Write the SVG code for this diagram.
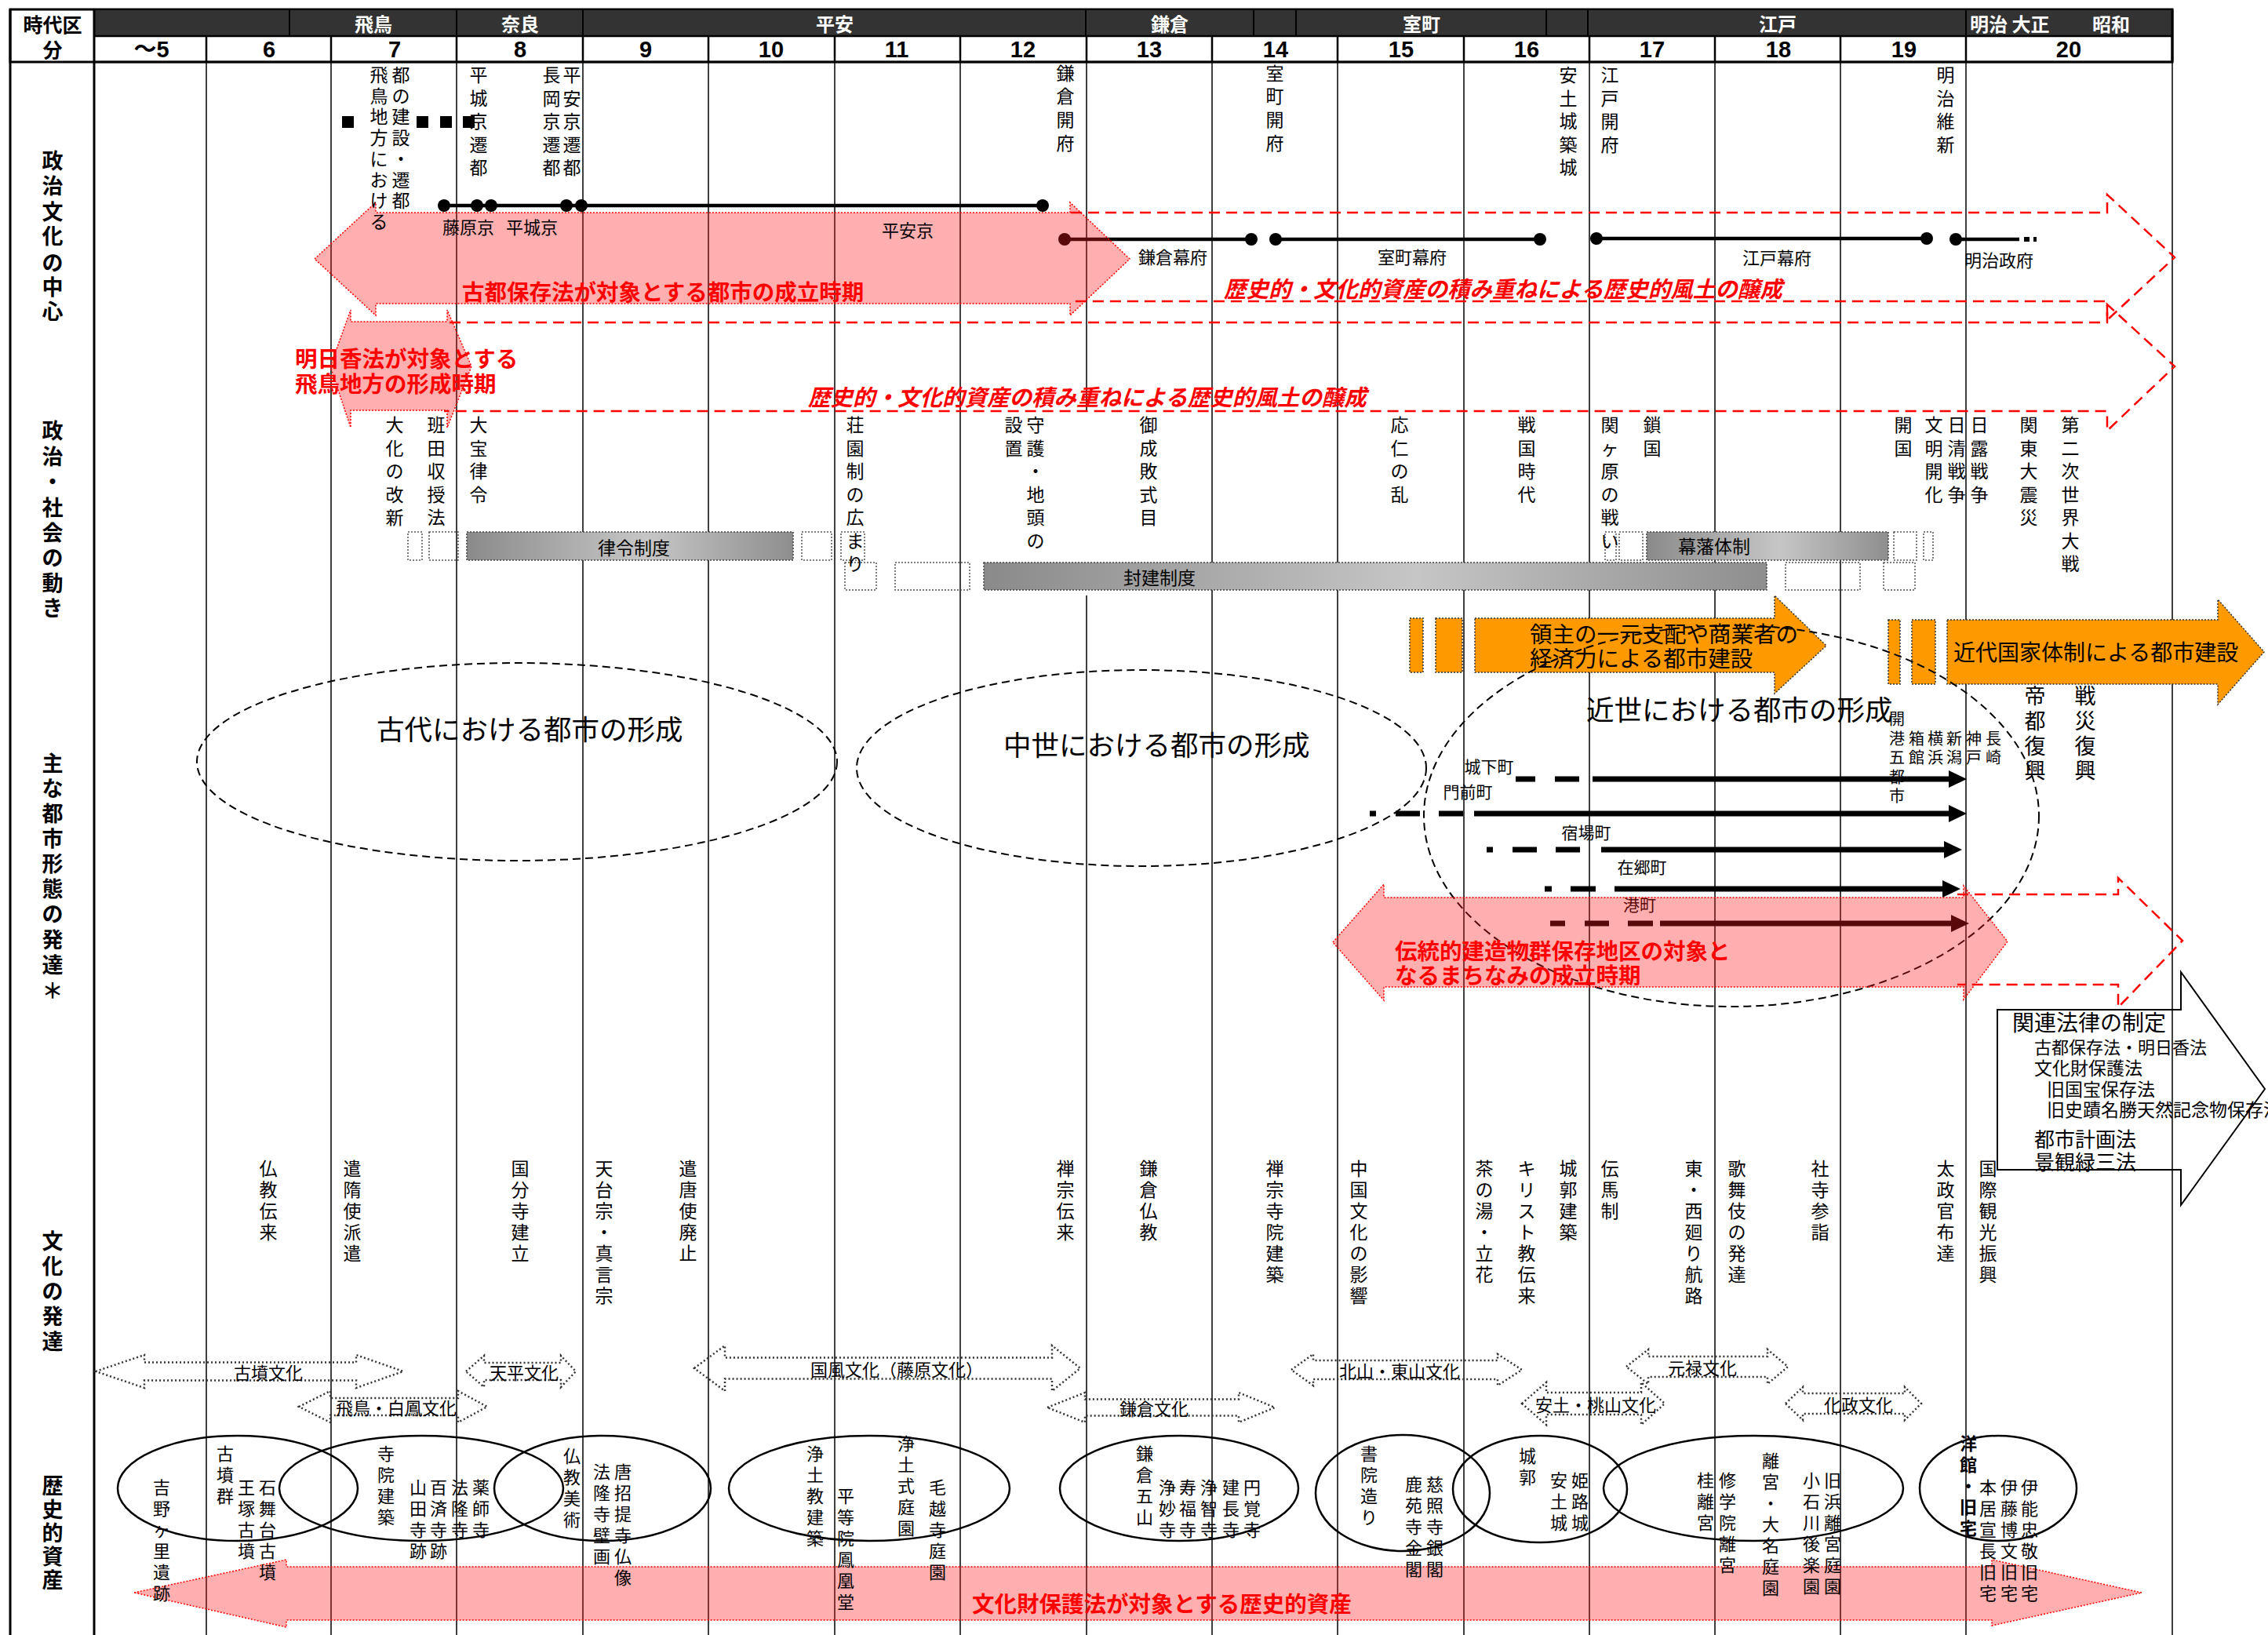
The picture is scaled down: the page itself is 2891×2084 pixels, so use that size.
<svg xmlns="http://www.w3.org/2000/svg" width="2891" height="2084" viewBox="0 0 2891 2084">
<defs>
<linearGradient id="gbar" x1="0" y1="0" x2="1" y2="0">
<stop offset="0" stop-color="#8a8a8a"/><stop offset="0.55" stop-color="#c6c6c6"/><stop offset="1" stop-color="#8e8e8e"/>
</linearGradient>
</defs>
<style>
text{font-family:"Noto Sans CJK JP","Noto Sans",sans-serif;dominant-baseline:central;text-anchor:middle;fill:#000}
.v{font-size:23px}
.sm{font-size:21px}
.lb{font-size:27px;font-weight:bold}
.hd{font-size:24px;font-weight:bold;fill:#fff}
.num{font-family:"Liberation Sans Narrow","Liberation Sans","Noto Sans CJK JP",sans-serif;font-size:29px;font-weight:bold}
.rt{font-size:28.5px;font-weight:bold;fill:#ff0000;text-anchor:start}
.ri{font-size:28.5px;font-weight:bold;font-style:italic;fill:#ff0000;text-anchor:start}
.st{text-anchor:start}
.col{stroke:#000;stroke-width:1.5}
.pink{fill:#ff1a1a;fill-opacity:0.35;stroke:#ff0000;stroke-width:1.5;stroke-dasharray:2 2}
.dred{fill:none;stroke:#ff0000;stroke-width:2.5;stroke-dasharray:14 8}
.cult{fill:none;stroke:#333;stroke-width:2.5;stroke-dasharray:2 3}
.bar{fill:url(#gbar);stroke:#444;stroke-width:1.5;stroke-dasharray:2 2}
.box{fill:none;stroke:#555;stroke-width:1.5;stroke-dasharray:2 2}
.orng{fill:#ff9900;stroke:#333;stroke-width:1.5;stroke-dasharray:2 2}
.ell{fill:none;stroke:#000;stroke-width:2;stroke-dasharray:10 6}
.as{fill:none;stroke:#000;stroke-width:2.5}
.tl{stroke:#000;stroke-width:4.5}
.ca{stroke:#000;stroke-width:7}
</style>

<g id="grid">
<rect x="13" y="12" width="2756" height="67" fill="#fff" stroke="#000" stroke-width="3"/>
<g fill="#333" stroke="#000" stroke-width="2">
<rect x="120" y="12" width="249" height="34"/><rect x="369" y="12" width="213" height="34"/><rect x="582" y="12" width="161" height="34"/><rect x="743" y="12" width="641" height="34"/><rect x="1384" y="12" width="214" height="34"/><rect x="1598" y="12" width="54" height="34"/><rect x="1652" y="12" width="319" height="34"/><rect x="1971" y="12" width="53" height="34"/><rect x="2024" y="12" width="482" height="34"/><rect x="2506" y="12" width="263" height="34"/>
</g>
<g fill="none" stroke="#000" stroke-width="2.5">
<path d="M120,46 H2769 M120,79 H2769"/>
<path d="M263,46 V79 M422,46 V79 M582,46 V79 M743,46 V79 M903,46 V79 M1064,46 V79 M1224,46 V79 M1385,46 V79 M1545,46 V79 M1705,46 V79 M1866,46 V79 M2026,46 V79 M2186,46 V79 M2346,46 V79 M2506,46 V79"/>
</g>
<path d="M13,12 V2084 M120,12 V2084" stroke="#000" stroke-width="3"/>
<path class="col" d="M263,79 V2084 M422,79 V2084 M582,79 V2084 M743,79 V2084 M903,79 V2084 M1064,79 V2084 M1224,79 V2084 M1385,79 V524 M1385,759 V2084 M1545,79 V2084 M1705,79 V2084 M1866,79 V2084 M2026,79 V2084 M2186,79 V2084 M2346,79 V2084 M2506,79 V2084 M2769,79 V2084"/>
<path d="M2769,12 V79" stroke="#000" stroke-width="3"/>
</g>

<g id="header-text">
<text class="lb" x="67" y="30" style="font-size:25px">時代区</text>
<text class="lb" x="67" y="62" style="font-size:25px">分</text>
<text class="hd" x="476" y="29">飛鳥</text>
<text class="hd" x="663" y="29">奈良</text>
<text class="hd" x="1064" y="29">平安</text>
<text class="hd" x="1491" y="29">鎌倉</text>
<text class="hd" x="1812" y="29">室町</text>
<text class="hd" x="2266" y="29">江戸</text>
<text class="hd st" x="2511" y="29">明治 大正</text>
<text class="hd" x="2691" y="29">昭和</text>
<text class="num" x="193" y="63">～5</text>
<text class="num" x="343" y="63">6</text>
<text class="num" x="503" y="63">7</text>
<text class="num" x="663" y="63">8</text>
<text class="num" x="823" y="63">9</text>
<text class="num" x="983" y="63">10</text>
<text class="num" x="1143" y="63">11</text>
<text class="num" x="1304" y="63">12</text>
<text class="num" x="1465" y="63">13</text>
<text class="num" x="1626" y="63">14</text>
<text class="num" x="1786" y="63">15</text>
<text class="num" x="1946" y="63">16</text>
<text class="num" x="2106" y="63">17</text>
<text class="num" x="2267" y="63">18</text>
<text class="num" x="2427" y="63">19</text>
<text class="num" x="2637" y="63">20</text>
</g>

<g id="row-labels">
<text class="lb" x="67 67 67 67 67 67 67" y="203 235 268 299 333 364 395">政治文化の中心</text>
<text class="lb" x="67 67 67 67 67 67 67 67" y="547 580 612 645 677 709 741 773">政治・社会の動き</text>
<text class="lb" x="67 67 67 67 67 67 67 67 67 67" y="971 1003 1035 1067 1099 1131 1163 1196 1228 1261">主な都市形態の発達＊</text>
<text class="lb" x="67 67 67 67 67" y="1580 1612 1644 1676 1708">文化の発達</text>
<text class="lb" x="67 67 67 67 67" y="1892 1922 1952 1982 2012">歴史的資産</text>
</g>

<g id="bars">
<rect class="box" x="520" y="678" width="18" height="36"/>
<rect class="box" x="547" y="678" width="37" height="36"/>
<rect class="bar" x="595" y="678" width="416" height="36"/>
<rect class="box" x="1022" y="678" width="38" height="36"/>
<rect class="box" x="1072" y="678" width="30" height="36"/>
<rect class="box" x="2046" y="678" width="14" height="36"/>
<rect class="box" x="2064" y="678" width="30" height="36"/>
<rect class="bar" x="2099" y="678" width="308" height="36"/>
<rect class="box" x="2414" y="678" width="29" height="36"/>
<rect class="box" x="2452" y="678" width="12" height="36"/>
<rect class="box" x="1077" y="717" width="40" height="35"/>
<rect class="box" x="1141" y="717" width="95" height="35"/>
<rect class="bar" x="1254" y="717" width="998" height="35"/>
<rect class="box" x="2276" y="717" width="95" height="35"/>
<rect class="box" x="2401" y="717" width="40" height="35"/>
<text class="v" x="808" y="697">律令制度</text>
<text class="v" x="1478" y="735">封建制度</text>
<text class="v" x="2185" y="695">幕藩体制</text>
</g>

<g id="timelines">
<path class="tl" d="M566,262 H1329 M1357,305 H1595 M1626,305 H1963 M2035,304 H2456 M2493,305 H2574"/>
<g fill="#000">
<circle cx="566" cy="262" r="8"/><circle cx="608" cy="262" r="8"/><circle cx="626" cy="262" r="8"/><circle cx="722" cy="262" r="8"/><circle cx="741" cy="262" r="8"/><circle cx="1329" cy="262" r="8"/>
<circle cx="1357" cy="305" r="8"/><circle cx="1595" cy="305" r="8"/><circle cx="1626" cy="305" r="8"/><circle cx="1963" cy="305" r="8"/><circle cx="2035" cy="304" r="8"/><circle cx="2456" cy="304" r="8"/><circle cx="2493" cy="305" r="8"/>
<rect x="2580" y="302" width="7" height="6"/><rect x="2592" y="302" width="4" height="6"/>
<rect x="436" y="148" width="15" height="15"/><rect x="531" y="148" width="15" height="15"/><rect x="561" y="148" width="15" height="15"/><rect x="590" y="148" width="15" height="15"/>
</g>
</g>

<g id="red-dashed-arrows">
<path class="dred" d="M1365,271 H2686 V248 L2772,328 L2686,408 V384 H1365"/>
<path class="dred" d="M573,411 H2686 V388 L2772,467 L2686,549 V524 H566"/>
<path class="dred" d="M2495,1140 H2700 V1119 L2782,1199 L2700,1284 V1255 H2495"/>
</g>

<g id="orange-arrows">
<rect class="orng" x="1797" y="788" width="17" height="69"/>
<rect class="orng" x="1830" y="788" width="34" height="69"/>
<path class="orng" d="M1880,788 H2262 V759 L2328,823 L2262,884 V857 H1880 Z"/>
<rect class="orng" x="2407" y="790" width="15" height="82"/>
<rect class="orng" x="2437" y="790" width="30" height="82"/>
<path class="orng" d="M2482,790 H2827 V764 L2886,831 L2827,898 V872 H2482 Z"/>
<text class="st" x="1950" y="806" style="font-size:28.5px">領主の一元支配や商業者の</text>
<text class="st" x="1950" y="837" style="font-size:28.5px">経済力による都市建設</text>
<text class="st" x="2490" y="830" style="font-size:28px">近代国家体制による都市建設</text>
</g>

<g id="city-ellipses">
<ellipse class="ell" cx="659" cy="971" rx="408" ry="126"/>
<ellipse class="ell" cx="1455" cy="979" rx="363" ry="125"/>
<ellipse class="ell" cx="2207" cy="1040" rx="392" ry="243"/>
<text class="st" x="480" y="927" style="font-size:35.5px">古代における都市の形成</text>
<text class="st" x="1279" y="947" style="font-size:35.5px">中世における都市の形成</text>
<text class="st" x="2022" y="902" style="font-size:35.5px">近世における都市の形成</text>
</g>

<g id="connectors">
<path class="ca" d="M1932,993 H1957 M1982,993 H2013 M2030,993 H2486"/>
<polygon points="2484,982 2507,993 2484,1004"/>
<path class="ca" d="M1746,1037 H1754 M1779,1037 H1810 M1834,1037 H1865 M1879,1037 H2486"/>
<polygon points="2484,1026 2507,1037 2484,1048"/>
<path class="ca" d="M1895,1083 H1903 M1928,1083 H1959 M1983,1083 H2014 M2041,1083 H2480"/>
<polygon points="2478,1072 2501,1083 2478,1094"/>
<path class="ca" d="M1969,1133 H1978 M2002,1133 H2034 M2058,1133 H2478"/>
<polygon points="2476,1122 2499,1133 2476,1144"/>
<path class="ca" d="M1976,1177 H1995 M2020,1177 H2051 M2075,1177 H2107 M2116,1177 H2489"/>
<polygon points="2487,1166 2510,1177 2487,1188"/>
<text class="sm" x="1898" y="976">城下町</text>
<text class="sm" x="1871" y="1008">門前町</text>
<text class="sm" x="2022" y="1060">宿場町</text>
<text class="sm" x="2093" y="1104">在郷町</text>
<text class="sm" x="2090" y="1152">港町</text>
</g>

<g id="pink-arrows">
<polygon class="pink" points="401,330 479,258 479,271 1364,271 1364,258 1440,330 1364,402 1364,387 479,387 479,402"/>
<polygon class="pink" points="421,467 447,395 447,410 570,410 570,395 601,467 570,545 570,523 447,523 447,545"/>
<polygon class="pink" points="1699,1201 1764,1127 1764,1144 2503,1144 2503,1129 2559,1200 2503,1274 2503,1258 1764,1258 1764,1275"/>
<polygon class="pink" points="171,2030 365,1988 365,1997 2539,1997 2539,1988 2730,2030 2539,2072 2539,2065 365,2065 365,2074"/>
</g>

<g id="timeline-labels">
<text x="597" y="288" style="font-size:22px">藤原京</text>
<text x="678" y="288" style="font-size:22px">平城京</text>
<text x="1157" y="292" style="font-size:22px">平安京</text>
<text x="1495" y="326" style="font-size:22px">鎌倉幕府</text>
<text x="1800" y="326" style="font-size:22px">室町幕府</text>
<text x="2265" y="327" style="font-size:22px">江戸幕府</text>
<text x="2548" y="330" style="font-size:22px">明治政府</text>
</g>

<g id="red-labels">
<text class="rt" x="589" y="370">古都保存法が対象とする都市の成立時期</text>
<text class="ri" x="1560" y="366">歴史的・文化的資産の積み重ねによる歴史的風土の醸成</text>
<text class="ri" x="1030" y="504">歴史的・文化的資産の積み重ねによる歴史的風土の醸成</text>
<text class="rt" x="376" y="455">明日香法が対象とする</text>
<text class="rt" x="376" y="487">飛鳥地方の形成時期</text>
<text class="rt" x="1778" y="1210">伝統的建造物群保存地区の対象と</text>
<text class="rt" x="1778" y="1241">なるまちなみの成立時期</text>
<text class="rt" x="1239" y="2042">文化財保護法が対象とする歴史的資産</text>
</g>

<g id="politics-center">
<text class="v" x="511 511 511 511 511 511 511" y="94 121 147 174 201 228 254">都の建設・遷都</text>
<text class="v" x="483 483 483 483 483 483 483 483" y="94 121 147 174 201 228 254 281">飛鳥地方における</text>
<text class="v" x="610 610 610 610 610" y="94 124 153 183 212">平城京遷都</text>
<text class="v" x="703 703 703 703 703" y="94 124 153 183 212">長岡京遷都</text>
<text class="v" x="729 729 729 729 729" y="94 124 153 183 212">平安京遷都</text>
<text class="v" x="1358 1358 1358 1358" y="92 121 151 181">鎌倉開府</text>
<text class="v" x="1625 1625 1625 1625" y="92 121 151 181">室町開府</text>
<text class="v" x="1999 1999 1999 1999 1999" y="94 124 153 183 212">安土城築城</text>
<text class="v" x="2052 2052 2052 2052" y="94 124 153 183">江戸開府</text>
<text class="v" x="2480 2480 2480 2480" y="94 124 153 183">明治維新</text>
</g>

<g id="politics-society">
<text class="v" x="503 503 503 503 503" y="540 570 599 629 658">大化の改新</text>
<text class="v" x="556 556 556 556 556" y="540 570 599 629 658">班田収授法</text>
<text class="v" x="610 610 610 610" y="540 570 599 629">大宝律令</text>
<text class="v" x="1090 1090 1090 1090 1090 1090 1090" y="540 570 599 629 658 688 717">荘園制の広まり</text>
<text class="v" x="1320 1320 1320 1320 1320 1320" y="540 570 599 629 658 688">守護・地頭の</text>
<text class="v" x="1292 1292" y="540 570">設置</text>
<text class="v" x="1464 1464 1464 1464 1464" y="540 570 599 629 658">御成敗式目</text>
<text class="v" x="1784 1784 1784 1784" y="540 570 599 629">応仁の乱</text>
<text class="v" x="1946 1946 1946 1946" y="540 570 599 629">戦国時代</text>
<text class="v" x="2052 2052 2052 2052 2052 2052" y="540 570 599 629 658 688">関ヶ原の戦い</text>
<text class="v" x="2106 2106" y="540 570">鎖国</text>
<text class="v" x="2426 2426" y="540 570">開国</text>
<text class="v" x="2465 2465 2465 2465" y="540 570 599 629">文明開化</text>
<text class="v" x="2494 2494 2494 2494" y="540 570 599 629">日清戦争</text>
<text class="v" x="2523 2523 2523 2523" y="540 570 599 629">日露戦争</text>
<text class="v" x="2586 2586 2586 2586 2586" y="540 570 599 629 658">関東大震災</text>
<text class="v" x="2639 2639 2639 2639 2639 2639 2639" y="540 570 599 629 658 688 717">第二次世界大戦</text>
</g>

<g id="city-notes">
<text class="sm" x="2418 2418 2418 2418 2418" y="915 940 964 989 1013" style="font-size:20px">開港五都市</text>
<text class="sm" x="2443 2443" y="940 964" style="font-size:20px">箱館</text>
<text class="sm" x="2467 2467" y="940 964" style="font-size:20px">横浜</text>
<text class="sm" x="2491 2491" y="940 964" style="font-size:20px">新潟</text>
<text class="sm" x="2516 2516" y="940 964" style="font-size:20px">神戸</text>
<text class="sm" x="2541 2541" y="940 964" style="font-size:20px">長崎</text>
<text x="2594 2594 2594 2594" y="885 917 949 980" style="font-size:27px">帝都復興</text>
<text x="2658 2658 2658 2658" y="885 917 949 980" style="font-size:27px">戦災復興</text>
</g>

<g id="law-callout">
<path d="M2546,1287 H2780 V1239 L2887,1388 L2780,1536 V1491 H2546 Z" fill="none" stroke="#000" stroke-width="2"/>
<text class="st" x="2565" y="1302" style="font-size:28px">関連法律の制定</text>
<text class="st" x="2593" y="1333" style="font-size:22px">古都保存法・明日香法</text>
<text class="st" x="2593" y="1360" style="font-size:23px">文化財保護法</text>
<text class="st" x="2609" y="1387" style="font-size:23px">旧国宝保存法</text>
<text class="st" x="2609" y="1413" style="font-size:23px">旧史蹟名勝天然記念物保存法</text>
<text class="st" x="2593" y="1450" style="font-size:26px">都市計画法</text>
<text class="st" x="2593" y="1479" style="font-size:26px">景観緑三法</text>
</g>

<g id="culture">
<text class="v" x="342 342 342 342" y="1488 1515 1542 1569">仏教伝来</text>
<text class="v" x="449 449 449 449 449" y="1488 1515 1542 1569 1596">遣隋使派遣</text>
<text class="v" x="663 663 663 663 663" y="1488 1515 1542 1569 1596">国分寺建立</text>
<text class="v" x="770 770 770 770 770 770 770" y="1488 1515 1542 1569 1596 1623 1650">天台宗・真言宗</text>
<text class="v" x="877 877 877 877 877" y="1488 1515 1542 1569 1596">遣唐使廃止</text>
<text class="v" x="1358 1358 1358 1358" y="1488 1515 1542 1569">禅宗伝来</text>
<text class="v" x="1464 1464 1464 1464" y="1488 1515 1542 1569">鎌倉仏教</text>
<text class="v" x="1625 1625 1625 1625 1625 1625" y="1488 1515 1542 1569 1596 1623">禅宗寺院建築</text>
<text class="v" x="1732 1732 1732 1732 1732 1732 1732" y="1488 1515 1542 1569 1596 1623 1650">中国文化の影響</text>
<text class="v" x="1892 1892 1892 1892 1892 1892" y="1488 1515 1542 1569 1596 1623">茶の湯・立花</text>
<text class="v" x="1946 1946 1946 1946 1946 1946 1946" y="1488 1515 1542 1569 1596 1623 1650">キリスト教伝来</text>
<text class="v" x="1999 1999 1999 1999" y="1488 1515 1542 1569">城郭建築</text>
<text class="v" x="2052 2052 2052" y="1488 1515 1542">伝馬制</text>
<text class="v" x="2159 2159 2159 2159 2159 2159 2159" y="1488 1515 1542 1569 1596 1623 1650">東・西廻り航路</text>
<text class="v" x="2214 2214 2214 2214 2214 2214" y="1488 1515 1542 1569 1596 1623">歌舞伎の発達</text>
<text class="v" x="2320 2320 2320 2320" y="1488 1515 1542 1569">社寺参詣</text>
<text class="v" x="2480 2480 2480 2480 2480" y="1488 1515 1542 1569 1596">太政官布達</text>
<text class="v" x="2534 2534 2534 2534 2534 2534" y="1488 1515 1542 1569 1596 1623">国際観光振興</text>
</g>

<g id="culture-periods">
<path class="cult" d="M122,1748 L184,1727 L184,1736.5 L454,1736.5 L454,1727 L514,1748 L454,1769 L454,1759.5 L184,1759.5 L184,1769 Z"/>
<path class="cult" d="M381,1793 L421,1773 L421,1782 L584,1782 L584,1773 L621,1793 L584,1813 L584,1804 L421,1804 L421,1813 Z"/>
<path class="cult" d="M594,1748 L617,1728 L617,1737 L715,1737 L715,1728 L734,1748 L715,1768 L715,1759 L617,1759 L617,1768 Z"/>
<path class="cult" d="M885,1744 L924,1715 L924,1730.5 L1341,1730.5 L1341,1715 L1377,1744 L1341,1773 L1341,1757.5 L924,1757.5 L924,1773 Z"/>
<path class="cult" d="M1335,1794 L1383,1775 L1383,1783.5 L1579,1783.5 L1579,1775 L1625,1794 L1579,1813 L1579,1804.5 L1383,1804.5 L1383,1813 Z"/>
<path class="cult" d="M1646,1746 L1674,1726 L1674,1734 L1909,1734 L1909,1726 L1940,1746 L1909,1766 L1909,1758 L1674,1758 L1674,1766 Z"/>
<path class="cult" d="M1940,1789 L1971,1762 L1971,1775 L2092,1775 L2092,1762 L2122,1789 L2092,1816 L2092,1803 L1971,1803 L1971,1816 Z"/>
<path class="cult" d="M2073,1742 L2101,1720 L2101,1729 L2253,1729 L2253,1720 L2279,1742 L2253,1764 L2253,1755 L2101,1755 L2101,1764 Z"/>
<path class="cult" d="M2276,1789 L2298,1768 L2298,1776 L2428,1776 L2428,1768 L2449,1789 L2428,1810 L2428,1802 L2298,1802 L2298,1810 Z"/>
<text x="342" y="1748" style="font-size:22px">古墳文化</text>
<text x="505" y="1793" style="font-size:22px">飛鳥・白鳳文化</text>
<text x="668" y="1748" style="font-size:22px">天平文化</text>
<text x="1143" y="1744" style="font-size:22px">国風文化（藤原文化）</text>
<text x="1471" y="1794" style="font-size:22px">鎌倉文化</text>
<text x="1784" y="1746" style="font-size:22px">北山・東山文化</text>
<text x="2034" y="1789" style="font-size:22px">安土・桃山文化</text>
<text x="2170" y="1742" style="font-size:22px">元禄文化</text>
<text x="2369" y="1789" style="font-size:22px">化政文化</text>
</g>

<g id="assets">
<ellipse class="as" cx="303" cy="1897" rx="153" ry="67"/>
<ellipse class="as" cx="537" cy="1897" rx="181" ry="67"/>
<ellipse class="as" cx="768" cy="1897" rx="138" ry="67"/>
<ellipse class="as" cx="1108" cy="1897" rx="179" ry="67"/>
<ellipse class="as" cx="1503" cy="1897" rx="152" ry="67"/>
<ellipse class="as" cx="1788" cy="1903" rx="111" ry="74"/>
<ellipse class="as" cx="1963" cy="1898" rx="111" ry="68"/>
<ellipse class="as" cx="2235" cy="1897" rx="191" ry="67"/>
<ellipse class="as" cx="2547" cy="1897" rx="100" ry="67"/>
<text x="206 206 206 206 206 206" y="1894 1921 1948 1975 2002 2029" style="font-size:22px">吉野ヶ里遺跡</text>
<text x="287 287 287" y="1851 1878 1905" style="font-size:22px">古墳群</text>
<text x="314 314 314 314" y="1894 1921 1948 1975" style="font-size:22px">王塚古墳</text>
<text x="341 341 341 341 341" y="1894 1921 1948 1975 2002" style="font-size:22px">石舞台古墳</text>
<text x="492 492 492 492" y="1851 1878 1905 1932" style="font-size:22px">寺院建築</text>
<text x="533 533 533 533" y="1894 1921 1948 1975" style="font-size:22px">山田寺跡</text>
<text x="559 559 559 559" y="1894 1921 1948 1975" style="font-size:22px">百済寺跡</text>
<text x="586 586 586" y="1894 1921 1948" style="font-size:22px">法隆寺</text>
<text x="613 613 613" y="1894 1921 1948" style="font-size:22px">薬師寺</text>
<text x="729 729 729 729" y="1854 1881 1908 1935" style="font-size:22px">仏教美術</text>
<text x="767 767 767 767 767" y="1874 1901 1928 1955 1982" style="font-size:22px">法隆寺壁画</text>
<text x="794 794 794 794 794 794" y="1874 1901 1928 1955 1982 2009" style="font-size:22px">唐招提寺仏像</text>
<text x="1039 1039 1039 1039 1039" y="1851 1878 1905 1932 1959" style="font-size:22px">浄土教建築</text>
<text x="1078 1078 1078 1078 1078 1078" y="1905 1932 1959 1986 2013 2040" style="font-size:22px">平等院鳳凰堂</text>
<text x="1155 1155 1155 1155 1155" y="1838 1865 1892 1919 1946" style="font-size:22px">浄土式庭園</text>
<text x="1195 1195 1195 1195 1195" y="1894 1921 1948 1975 2002" style="font-size:22px">毛越寺庭園</text>
<text x="1459 1459 1459 1459" y="1851 1878 1905 1932" style="font-size:22px">鎌倉五山</text>
<text x="1488 1488 1488" y="1894 1921 1948" style="font-size:22px">浄妙寺</text>
<text x="1514 1514 1514" y="1894 1921 1948" style="font-size:22px">寿福寺</text>
<text x="1541 1541 1541" y="1894 1921 1948" style="font-size:22px">浄智寺</text>
<text x="1569 1569 1569" y="1894 1921 1948" style="font-size:22px">建長寺</text>
<text x="1596 1596 1596" y="1894 1921 1948" style="font-size:22px">円覚寺</text>
<text x="1745 1745 1745 1745" y="1851 1878 1905 1932" style="font-size:22px">書院造り</text>
<text x="1802 1802 1802 1802 1802" y="1890 1917 1944 1971 1998" style="font-size:22px">鹿苑寺金閣</text>
<text x="1829 1829 1829 1829 1829" y="1890 1917 1944 1971 1998" style="font-size:22px">慈照寺銀閣</text>
<text x="1947 1947" y="1854 1881" style="font-size:22px">城郭</text>
<text x="1987 1987 1987" y="1885 1912 1939" style="font-size:22px">安土城</text>
<text x="2014 2014 2014" y="1885 1912 1939" style="font-size:22px">姫路城</text>
<text x="2174 2174 2174" y="1885 1912 1939" style="font-size:22px">桂離宮</text>
<text x="2202 2202 2202 2202 2202" y="1885 1912 1939 1966 1993" style="font-size:22px">修学院離宮</text>
<text x="2257 2257 2257 2257 2257 2257 2257" y="1860 1887 1914 1941 1968 1995 2022" style="font-size:22px">離宮・大名庭園</text>
<text x="2309 2309 2309 2309 2309 2309" y="1885 1912 1939 1966 1993 2020" style="font-size:22px">小石川後楽園</text>
<text x="2336 2336 2336 2336 2336 2336" y="1885 1912 1939 1966 1993 2020" style="font-size:22px">旧浜離宮庭園</text>
<text x="2509 2509 2509 2509 2509" y="1838 1865 1892 1919 1946" style="font-size:22px;font-weight:bold">洋館・旧宅</text>
<text x="2534 2534 2534 2534 2534 2534" y="1894 1921 1948 1975 2002 2029" style="font-size:22px">本居宣長旧宅</text>
<text x="2561 2561 2561 2561 2561 2561" y="1894 1921 1948 1975 2002 2029" style="font-size:22px">伊藤博文旧宅</text>
<text x="2587 2587 2587 2587 2587 2587" y="1894 1921 1948 1975 2002 2029" style="font-size:22px">伊能忠敬旧宅</text>
</g>
</svg>
